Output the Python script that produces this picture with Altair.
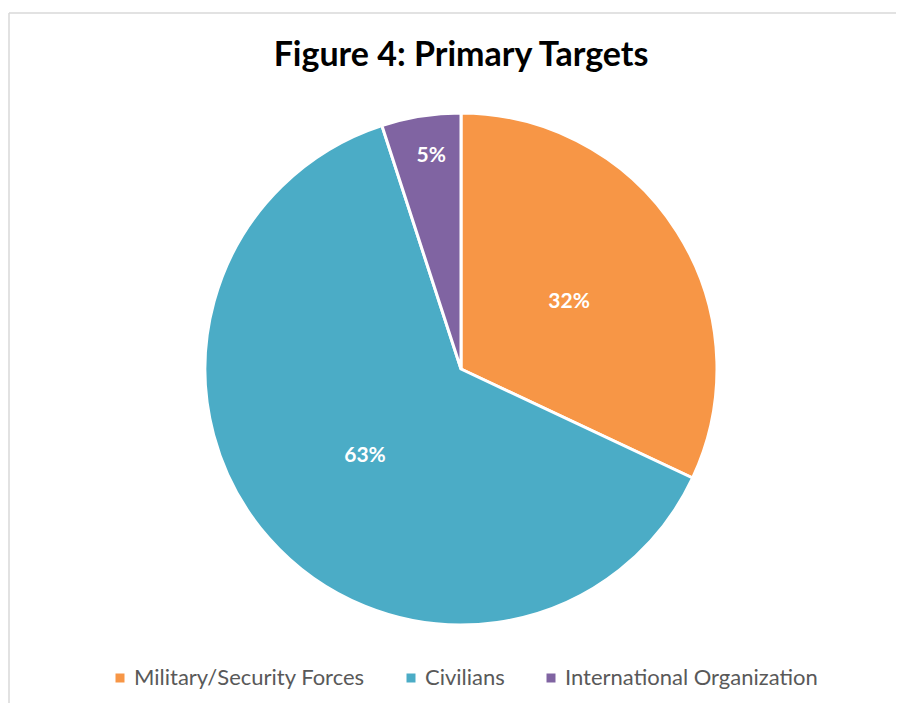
import altair as alt
import pandas as pd

TITLE = "Figure 4: Primary Targets"
categories = ["Military/Security Forces", "Civilians", "International Organization"]
values = [32, 63, 5]
labels = ["32%", "63%", "5%"]
colors = ["#F79646", "#4BACC6", "#8064A2"]
order = [0, 1, 2]

FONT = "Lato"
CX, CY, R = 453, 361, 256

df = pd.DataFrame({"category": categories, "value": values, "label": labels, "ord": order})

base = alt.Chart(df).encode(
    theta=alt.Theta("value:Q", stack=True),
    order=alt.Order("ord:Q"),
)

pie = base.mark_arc(outerRadius=R, stroke="white", strokeWidth=3).encode(
    x=alt.value(CX),
    y=alt.value(CY),
    color=alt.Color(
        "category:N",
        scale=alt.Scale(domain=categories, range=colors),
        legend=alt.Legend(
            title=None,
            orient="none",
            direction="horizontal",
            legendX=101,
            legendY=659,
            symbolType="square",
            symbolSize=81,
            symbolStrokeWidth=0,
            labelFont=FONT,
            labelFontSize=22,
            labelColor="#595959",
            labelOffset=3,
            labelLimit=0,
            columnPadding=35,
        ),
    ),
)

text_style = dict(font=FONT, fontSize=21, fontWeight="bold", color="white",
                  align="center", baseline="middle")

text_inner = base.transform_calculate(
    t="datum.value >= 10 ? datum.label : ''"
).mark_text(**text_style).encode(
    x=alt.value(CX), y=alt.value(CY + 2), radius=alt.value(128), text="t:N"
)

text_outer = base.transform_calculate(
    t="datum.value < 10 ? datum.label : ''"
).mark_text(**text_style).encode(
    x=alt.value(CX + 4), y=alt.value(CY), radius=alt.value(216), text="t:N"
)

title = alt.Chart(pd.DataFrame({"t": [TITLE]})).mark_text(
    font=FONT, fontSize=34, fontWeight="bold", color="black", align="center", baseline="alphabetic"
).encode(x=alt.value(CX), y=alt.value(58), text="t:N")

one = pd.DataFrame({"a": [0]})
top_rule = alt.Chart(one).mark_rule(color="#d9d9d9", strokeWidth=1.5).encode(
    x=alt.value(1), x2=alt.value(910), y=alt.value(5)
)
left_rule = alt.Chart(one).mark_rule(color="#d9d9d9", strokeWidth=1.5).encode(
    x=alt.value(1), y=alt.value(5), y2=alt.value(720)
)

chart = alt.layer(top_rule, left_rule, pie, text_inner, text_outer, title).properties(
    width=888,
    height=695,
    autosize=alt.AutoSizeParams(type="none"),
    padding=0,
).configure_view(stroke=None)

chart.save("out.html", embed_options={"renderer": "svg", "actions": False})
